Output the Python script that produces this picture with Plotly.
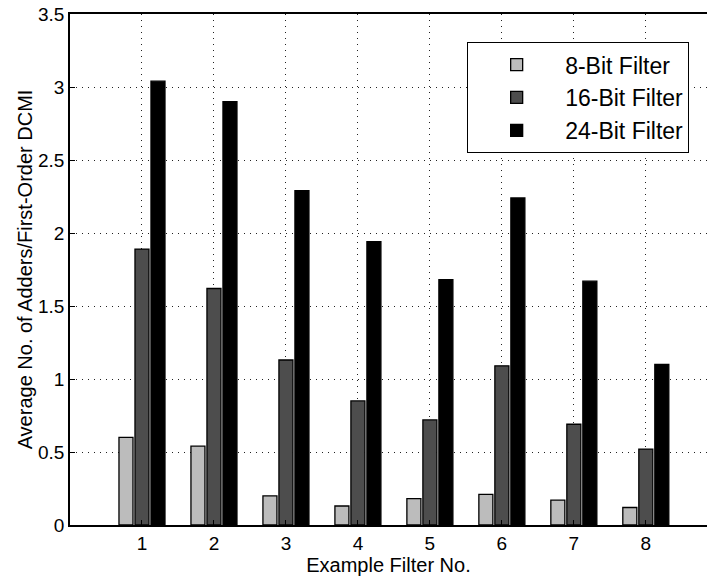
import plotly.graph_objects as go

filters = [1, 2, 3, 4, 5, 6, 7, 8]
bit8 = [0.60, 0.54, 0.20, 0.13, 0.18, 0.21, 0.17, 0.12]
bit16 = [1.89, 1.62, 1.13, 0.85, 0.72, 1.09, 0.69, 0.52]
bit24 = [3.04, 2.90, 2.29, 1.94, 1.68, 2.24, 1.67, 1.10]
series_names = ["8-Bit Filter", "16-Bit Filter", "24-Bit Filter"]
colors = ["#bcbcbc", "#4d4d4d", "#000000"]

fig = go.Figure()
for name, vals, col in zip(series_names, [bit8, bit16, bit24], colors):
    fig.add_trace(go.Bar(
        x=filters, y=vals, name=name,
        marker=dict(color=col, line=dict(color="black", width=1.3)),
    ))

font = "Liberation Sans, Arial, Helvetica, sans-serif"
fig.update_layout(
    width=707, height=579,
    margin=dict(l=70, r=0, t=14, b=54),
    paper_bgcolor="white", plot_bgcolor="white",
    barmode="group", bargap=0.333, bargroupgap=0.125,
    font=dict(family=font, size=19, color="black"),
    showlegend=True,
    legend=dict(
        x=0.972, y=0.945, xanchor="right", yanchor="top",
        bgcolor="white", bordercolor="black", borderwidth=1,
        font=dict(size=23, family=font, color="black"),
        itemwidth=87, tracegroupgap=0,
    ),
    xaxis=dict(
        range=[0, 8.85], tickvals=filters, ticktext=[str(f) for f in filters],
        showline=True, linecolor="black", linewidth=1.5, mirror=True,
        ticks="inside", ticklen=5, tickcolor="black",
        showgrid=True, gridcolor="#222222", griddash="1px,5px", gridwidth=1,
        tickfont=dict(size=19),
        title=dict(text="Example Filter No.", font=dict(size=20), standoff=0),
        zeroline=False, automargin=False,
    ),
    yaxis=dict(
        range=[0, 3.5], tickvals=[0, 0.5, 1, 1.5, 2, 2.5, 3, 3.5],
        ticktext=["0", "0.5", "1", "1.5", "2", "2.5", "3", "3.5"],
        showline=True, linecolor="black", linewidth=1.5, mirror=False,
        ticks="inside", ticklen=5, tickcolor="black",
        showgrid=True, gridcolor="#222222", griddash="1px,5px", gridwidth=1,
        tickfont=dict(size=19),
        title=dict(text="Average No. of Adders/First-Order DCMI", font=dict(size=20), standoff=0),
        zeroline=False, automargin=False,
    ),
)

fig.write_html("out.html", config={"displayModeBar": False},
               post_script="document.body.style.margin='0px';")
